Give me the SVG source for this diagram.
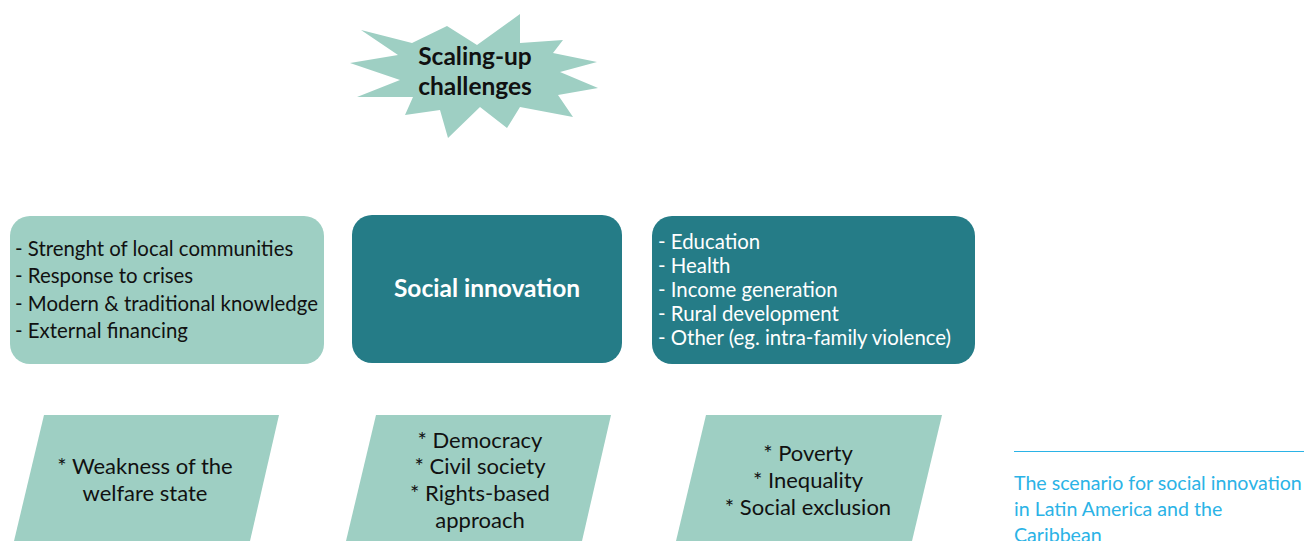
<svg xmlns="http://www.w3.org/2000/svg" width="1304" height="541" viewBox="0 0 1304 541">
<style>
.light{fill:#9ecfc3}
.dark{fill:#257c87}
.t{font-family:Lato,"Noto Sans",sans-serif;font-size:20.4px;fill:#111}
.tw{font-family:Lato,"Noto Sans",sans-serif;font-size:20.4px;fill:#fff}
.p{font-size:22px}
.c{text-anchor:middle}
.b{font-weight:bold}
.cap{font-family:Lato,"Noto Sans",sans-serif;font-size:19.6px;fill:#2bb3e6}
</style>
<rect width="1304" height="541" fill="#fff"/>
<g id="star">
<polygon class="light" points="361,30 412,43 447,26 477,45 520,14 520,43 563,40 553,53 597,62 560,72 598,88 558,95 573,117 520,107 507,128 480,107 448,138 440,110 405,115 413,97 357,97 400,80 350,63 398,55"/>
<text class="t c b" x="475" y="65" style="font-size:24.5px">Scaling-up</text>
<text class="t c b" x="475" y="95" style="font-size:24.5px">challenges</text>
</g>
<g id="strengths">
<rect class="light" x="10" y="216" width="314" height="148" rx="20"/>
<text class="t" x="15" y="256">- Strenght of local communities</text>
<text class="t" x="15" y="283">- Response to crises</text>
<text class="t" x="15" y="311">- Modern &amp; traditional knowledge</text>
<text class="t" x="15" y="338">- External financing</text>
</g>
<g id="social-innovation">
<rect class="dark" x="352" y="215" width="270" height="148" rx="20"/>
<text class="tw c b" x="487" y="297" style="font-size:24.5px">Social innovation</text>
</g>
<g id="areas">
<rect class="dark" x="652" y="216" width="323" height="148" rx="20"/>
<text class="tw" x="658" y="249">- Education</text>
<text class="tw" x="658" y="273">- Health</text>
<text class="tw" x="658" y="297">- Income generation</text>
<text class="tw" x="658" y="321">- Rural development</text>
<text class="tw" x="658" y="345">- Other (eg. intra-family violence)</text>
</g>
<g id="welfare">
<polygon class="light" points="44,415 279,415 250,541 14,541"/>
<text class="t c p" x="145" y="474">* Weakness of the</text>
<text class="t c p" x="145" y="501">welfare state</text>
</g>
<g id="democracy">
<polygon class="light" points="376,415 611,415 582,541 346,541"/>
<text class="t c p" x="480" y="448">* Democracy</text>
<text class="t c p" x="480" y="474">* Civil society</text>
<text class="t c p" x="480" y="501">* Rights-based</text>
<text class="t c p" x="480" y="528">approach</text>
</g>
<g id="poverty">
<polygon class="light" points="706,415 942,415 912,541 676,541"/>
<text class="t c p" x="808" y="461">* Poverty</text>
<text class="t c p" x="808" y="488">* Inequality</text>
<text class="t c p" x="808" y="515">* Social exclusion</text>
</g>
<g id="connectors"></g>
<g id="caption">
<line x1="1014" y1="451.5" x2="1304" y2="451.5" stroke="#2bb3e6" stroke-width="1"/>
<text class="cap" x="1014" y="490">The scenario for social innovation</text>
<text class="cap" x="1014" y="516">in Latin America and the</text>
<text class="cap" x="1014" y="542">Caribbean</text>
</g>
</svg>
